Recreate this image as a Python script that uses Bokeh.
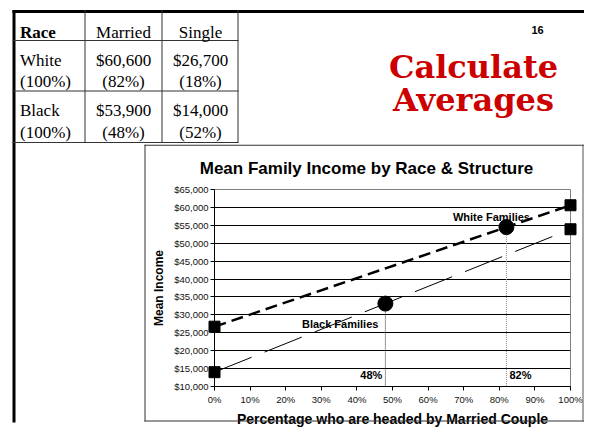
from bokeh.plotting import figure
from bokeh.models import (Range1d, SingleIntervalTicker, FixedTicker, NumeralTickFormatter)
from bokeh.core.properties import value
from bokeh.embed import file_html
from bokeh.resources import INLINE

# ---------------- data ----------------
races = ["White", "Black"]
married_income = [60600, 53900]
single_income = [26700, 14000]
married_share = [0.82, 0.48]
single_share = [0.18, 0.52]
mean_income = [54500, 33150]          # weighted averages
table_header = ["Race", "Married", "Single"]
chart_title = "Mean Family Income by Race & Structure"
y_label = "Mean Income"
x_label = "Percentage who are headed by Married Couple"
slide_title = ["Calculate", "Averages"]
slide_number = "16"

# ---------------- layout constants (canvas px) ----------------
W, H = 584, 429
FL, FR, FT, FB = 214, 570, 189, 392

p = figure(width=W, height=H, output_backend="svg", toolbar_location=None,
           x_range=Range1d(0, 1), y_range=Range1d(10000, 65000),
           min_border_left=FL, min_border_right=W - FR,
           min_border_top=FT, min_border_bottom=H - FB)
p.extra_x_ranges = {"cx": Range1d(FL, FR)}
p.extra_y_ranges = {"cy": Range1d(FB, FT)}
p.background_fill_color = "white"
p.border_fill_color = "white"
p.outline_line_color = "#808080"
p.outline_line_width = 1

# axes
p.xaxis.ticker = SingleIntervalTicker(interval=0.1, num_minor_ticks=0)
p.xaxis.formatter = NumeralTickFormatter(format="0%")
p.yaxis.ticker = SingleIntervalTicker(interval=5000, num_minor_ticks=0)
p.yaxis.formatter = NumeralTickFormatter(format="$0,0")
for ax in (p.xaxis, p.yaxis):
    ax.axis_line_color = "black"
    ax.axis_line_width = 1
    ax.major_tick_line_color = "black"
    ax.major_tick_out = 4
    ax.major_tick_in = 0
    ax.minor_tick_line_color = None
    ax.major_label_text_font = "Liberation Sans"
    ax.major_label_text_font_size = "9.5px"
    ax.major_label_text_color = "#111111"
    ax.axis_label_text_font = "Liberation Sans"
    ax.axis_label_text_font_style = "bold"
    ax.axis_label_text_color = "black"
p.xaxis.axis_label = x_label
p.xaxis.axis_label_text_font_size = "14px"
p.xaxis.major_label_standoff = 3
p.xaxis.axis_label_standoff = 3
p.yaxis.axis_label = y_label
p.yaxis.axis_label_text_font_size = "12px"
p.yaxis.major_label_standoff = 2
p.yaxis.axis_label_standoff = 5

p.xgrid.grid_line_color = None
p.ygrid.ticker = FixedTicker(ticks=list(range(15000, 65000, 5000)))
p.ygrid.grid_line_color = "black"
p.ygrid.grid_line_width = 1

# ---------------- data marks ----------------
ends_x = [0, 1]
white_y = [single_income[0], married_income[0]]
black_y = [single_income[1], married_income[1]]

p.line(ends_x, white_y, line_color="black", line_width=2.5, line_dash="12 6")
p.line(ends_x, black_y, line_color="black", line_width=1, line_dash="40 14")

p.segment(x0=married_share, y0=mean_income, x1=married_share, y1=[10000, 10000],
          line_color=["#888888", "#333333"], line_width=1, line_dash="1 1")

p.scatter(ends_x + ends_x, white_y + black_y, marker="square", size=11,
          fill_color="black", line_color="black", level="overlay")
p.scatter(married_share, mean_income, marker="circle", size=15,
          fill_color="black", line_color="black")

pct_txt = [f"{round(s * 100)}%" for s in married_share]
p.text(x=[married_share[1]], y=[13100], text=[pct_txt[1]], text_align="right",
       text_baseline="middle", x_offset=-3, text_font=value("Liberation Sans"),
       text_font_style="bold", text_font_size="11px", text_color="black")
p.text(x=[married_share[0]], y=[13100], text=[pct_txt[0]], text_align="left",
       text_baseline="middle", x_offset=3, text_font=value("Liberation Sans"),
       text_font_style="bold", text_font_size="11px", text_color="black")

p.text(x=[0.778, 0.353], y=[57200, 27400], text=[f"{r} Families" for r in races],
       text_align="center", text_baseline="middle", text_font=value("Liberation Sans"),
       text_font_style="bold", text_font_size="11px", text_color="black")

# ---------------- slide decorations (canvas-pixel ranges, overlay level) ----------------
qs = {"l": [], "r": [], "t": [], "b": [], "c": []}


def box(l, r, t, b, color="black"):
    qs["l"].append(l); qs["r"].append(r); qs["t"].append(t); qs["b"].append(b)
    qs["c"].append(color)


box(12, W, 4, 7)          # thick top border
box(12, 15, 4, H)         # thick left border
for yy in (35, 87, 140):  # table rows
    box(12, 238, yy, yy + 1, "#333333")
for xx in (84, 161, 237):  # table columns
    box(xx, xx + 1, 4, 141, "#333333")
# chart box
box(144, 584, 143, 144, "#333333")
box(144, 584, 427, 428, "#333333")
box(144, 145, 143, 428, "#333333")
box(582, 583, 143, 428, "#555555")
p.quad(left=qs["l"], right=qs["r"], top=qs["t"], bottom=qs["b"], fill_color=qs["c"],
       line_alpha=0, x_range_name="cx", y_range_name="cy", level="overlay")


def lab(x, y, text, size, font="Liberation Serif", style="normal", color="black",
        align="left", baseline="alphabetic"):
    p.text(x=[x], y=[y], text=[text], x_range_name="cx", y_range_name="cy", level="overlay",
           text_font=value(font), text_font_size=f"{size}px", text_font_style=style,
           text_color=color, text_align=align, text_baseline=baseline)


col_c = [123, 200]
lab(19.5, 27, table_header[0], 17, style="bold")
lab(col_c[0], 27, table_header[1], 17, align="center")
lab(col_c[1], 27, table_header[2], 17, align="center")
rows = [(56, 78), (108, 130)]
for i, r in enumerate(races):
    y1, y2 = rows[i]
    lab(19.5, y1, r, 17)
    lab(19.5, y2, f"({round((married_share[i] + single_share[i]) * 100)}%)", 17)
    lab(col_c[0], y1, f"${married_income[i]:,}", 17, align="center")
    lab(col_c[0], y2, f"({round(married_share[i] * 100)}%)", 17, align="center")
    lab(col_c[1], y1, f"${single_income[i]:,}", 17, align="center")
    lab(col_c[1], y2, f"({round(single_share[i] * 100)}%)", 17, align="center")

lab(537, 24.5, slide_number, 11, font="Liberation Sans", style="bold",
    align="center", baseline="middle")
lab(473, 63, slide_title[0], 32, font="DejaVu Serif", style="bold",
    color="#CC0000", align="center")
lab(473, 97, slide_title[1], 32, font="DejaVu Serif", style="bold",
    color="#CC0000", align="center")
lab(366, 167, chart_title, 17, font="Liberation Sans", style="bold",
    align="center")

open("out.html", "w").write(file_html(p, INLINE))
